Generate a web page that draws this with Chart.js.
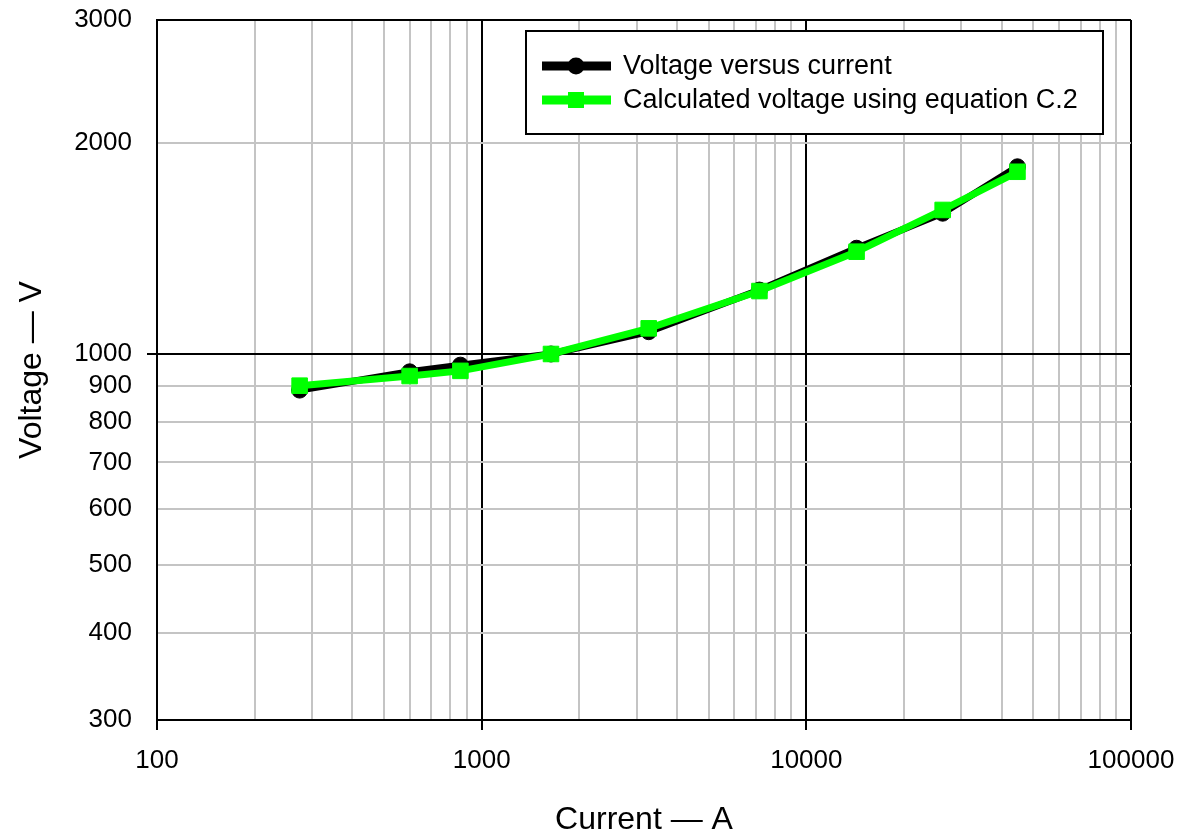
<!DOCTYPE html>
<html>
<head>
<meta charset="utf-8">
<script src="https://cdn.jsdelivr.net/npm/chart.js@4/dist/chart.umd.min.js"></script>
<style>
  body { margin: 0; background: #fff; }
  canvas { display: block; }
</style>
</head>
<body>
<canvas id="chart" width="1178" height="833"></canvas>
<script>
// values
const currents = [275, 600, 860, 1635, 3270, 7170, 14280, 26300, 44700];
const measuredVoltage = [888, 943, 964, 1000, 1076, 1234, 1416, 1589, 1851];
const calculatedVoltage = [901, 930, 946, 1000, 1088, 1230, 1400, 1606, 1821];

const seriesNames = ['Voltage versus current', 'Calculated voltage using equation C.2'];

const xGridValues = [100, 200, 300, 400, 500, 600, 700, 800, 900,
    1000, 2000, 3000, 4000, 5000, 6000, 7000, 8000, 9000,
    10000, 20000, 30000, 40000, 50000, 60000, 70000, 80000, 90000, 100000];
const xLabelValues = [100, 1000, 10000, 100000];
const xDarkLines = [100, 1000, 10000, 100000];

const yGridValues = [300, 400, 500, 600, 700, 800, 900, 1000, 2000, 3000];
const yDarkLines = [300, 1000, 3000];
const yTickMarks = [1000];

const FONT = '"Liberation Sans", Arial, sans-serif';
const GREY = '#c4c4c4';

function toPoints(xs, ys) {
    return xs.map((x, i) => ({ x: x, y: ys[i] }));
}

// legend box drawn on top of the plot, like the original
const legendBox = {
    id: 'legendBox',
    afterDatasetsDraw(chart) {
        const ctx = chart.ctx;
        const box = { left: 526, top: 31, right: 1103, bottom: 134 };
        ctx.save();
        ctx.fillStyle = '#fff';
        ctx.fillRect(box.left, box.top, box.right - box.left, box.bottom - box.top);
        ctx.strokeStyle = '#000';
        ctx.lineWidth = 2;
        ctx.strokeRect(box.left, box.top, box.right - box.left, box.bottom - box.top);

        const rows = [66, 100];
        chart.data.datasets.forEach((ds, i) => {
            const y = rows[i];
            ctx.strokeStyle = ds.borderColor;
            ctx.lineWidth = 9;
            ctx.beginPath();
            ctx.moveTo(542, y);
            ctx.lineTo(611, y);
            ctx.stroke();
            ctx.fillStyle = ds.pointBackgroundColor;
            if (ds.pointStyle === 'circle') {
                ctx.beginPath();
                ctx.arc(576, y, 8.5, 0, Math.PI * 2);
                ctx.fill();
            } else {
                ctx.fillRect(568, y - 8, 16, 16);
            }
            ctx.fillStyle = '#000';
            ctx.font = '27px ' + FONT;
            ctx.textBaseline = 'middle';
            ctx.textAlign = 'left';
            ctx.fillText(ds.label, 623, y + 1);
        });
        ctx.restore();
    }
};

new Chart(document.getElementById('chart'), {
    type: 'scatter',
    data: {
        datasets: [
            {
                label: seriesNames[0],
                data: toPoints(currents, measuredVoltage),
                showLine: true,
                borderColor: '#000000',
                borderWidth: 7,
                pointStyle: 'circle',
                pointRadius: 8,
                pointBorderWidth: 1,
                pointBackgroundColor: '#000000',
                pointBorderColor: '#000000',
                order: 1
            },
            {
                label: seriesNames[1],
                data: toPoints(currents, calculatedVoltage),
                showLine: true,
                borderColor: '#00ff00',
                borderWidth: 7,
                pointStyle: 'rect',
                pointRadius: 11,
                pointBorderWidth: 1,
                pointBackgroundColor: '#00ff00',
                pointBorderColor: '#00ff00',
                order: 0
            }
        ]
    },
    options: {
        responsive: false,
        animation: false,
        layout: { padding: { left: 0, right: 47, top: 20, bottom: 0 } },
        plugins: {
            legend: { display: false },
            tooltip: { enabled: false }
        },
        scales: {
            x: {
                type: 'logarithmic',
                min: 100,
                max: 100000,
                afterBuildTicks: scale => {
                    scale.ticks = xGridValues.map(v => ({ value: v }));
                },
                afterFit: scale => {
                    scale.height = 113;
                    scale.paddingLeft = 0;
                    scale.paddingRight = 0;
                },
                border: { color: '#000', width: 2 },
                grid: {
                    lineWidth: 2,
                    color: c => xDarkLines.includes(c.tick.value) ? '#000' : GREY,
                    tickLength: 10,
                    tickColor: c => xLabelValues.includes(c.tick.value) ? '#000' : 'rgba(0,0,0,0)'
                },
                ticks: {
                    autoSkip: false,
                    maxRotation: 0,
                    padding: 15,
                    color: '#000',
                    font: { family: FONT, size: 26 },
                    callback: v => xLabelValues.includes(v) ? String(v) : ''
                },
                title: {
                    display: true,
                    text: 'Current — A',
                    color: '#000',
                    font: { family: FONT, size: 32, lineHeight: 1 },
                    padding: { top: 0, bottom: -3 }
                }
            },
            y: {
                type: 'logarithmic',
                min: 300,
                max: 3000,
                afterBuildTicks: scale => {
                    scale.ticks = yGridValues.map(v => ({ value: v }));
                },
                afterFit: scale => {
                    scale.width = 157;
                    scale.paddingTop = 0;
                    scale.paddingBottom = 0;
                },
                border: { color: '#000', width: 2 },
                grid: {
                    lineWidth: 2,
                    color: c => yDarkLines.includes(c.tick.value) ? '#000' : GREY,
                    tickLength: 10,
                    tickColor: c => yTickMarks.includes(c.tick.value) ? '#000' : 'rgba(0,0,0,0)'
                },
                ticks: {
                    autoSkip: false,
                    padding: 15,
                    color: '#000',
                    font: { family: FONT, size: 26 },
                    callback: v => String(v)
                },
                title: {
                    display: true,
                    text: 'Voltage — V',
                    color: '#000',
                    font: { family: FONT, size: 32, lineHeight: 1 },
                    padding: { top: 16, bottom: 0 }
                }
            }
        }
    },
    plugins: [legendBox]
});
</script>
</body>
</html>
